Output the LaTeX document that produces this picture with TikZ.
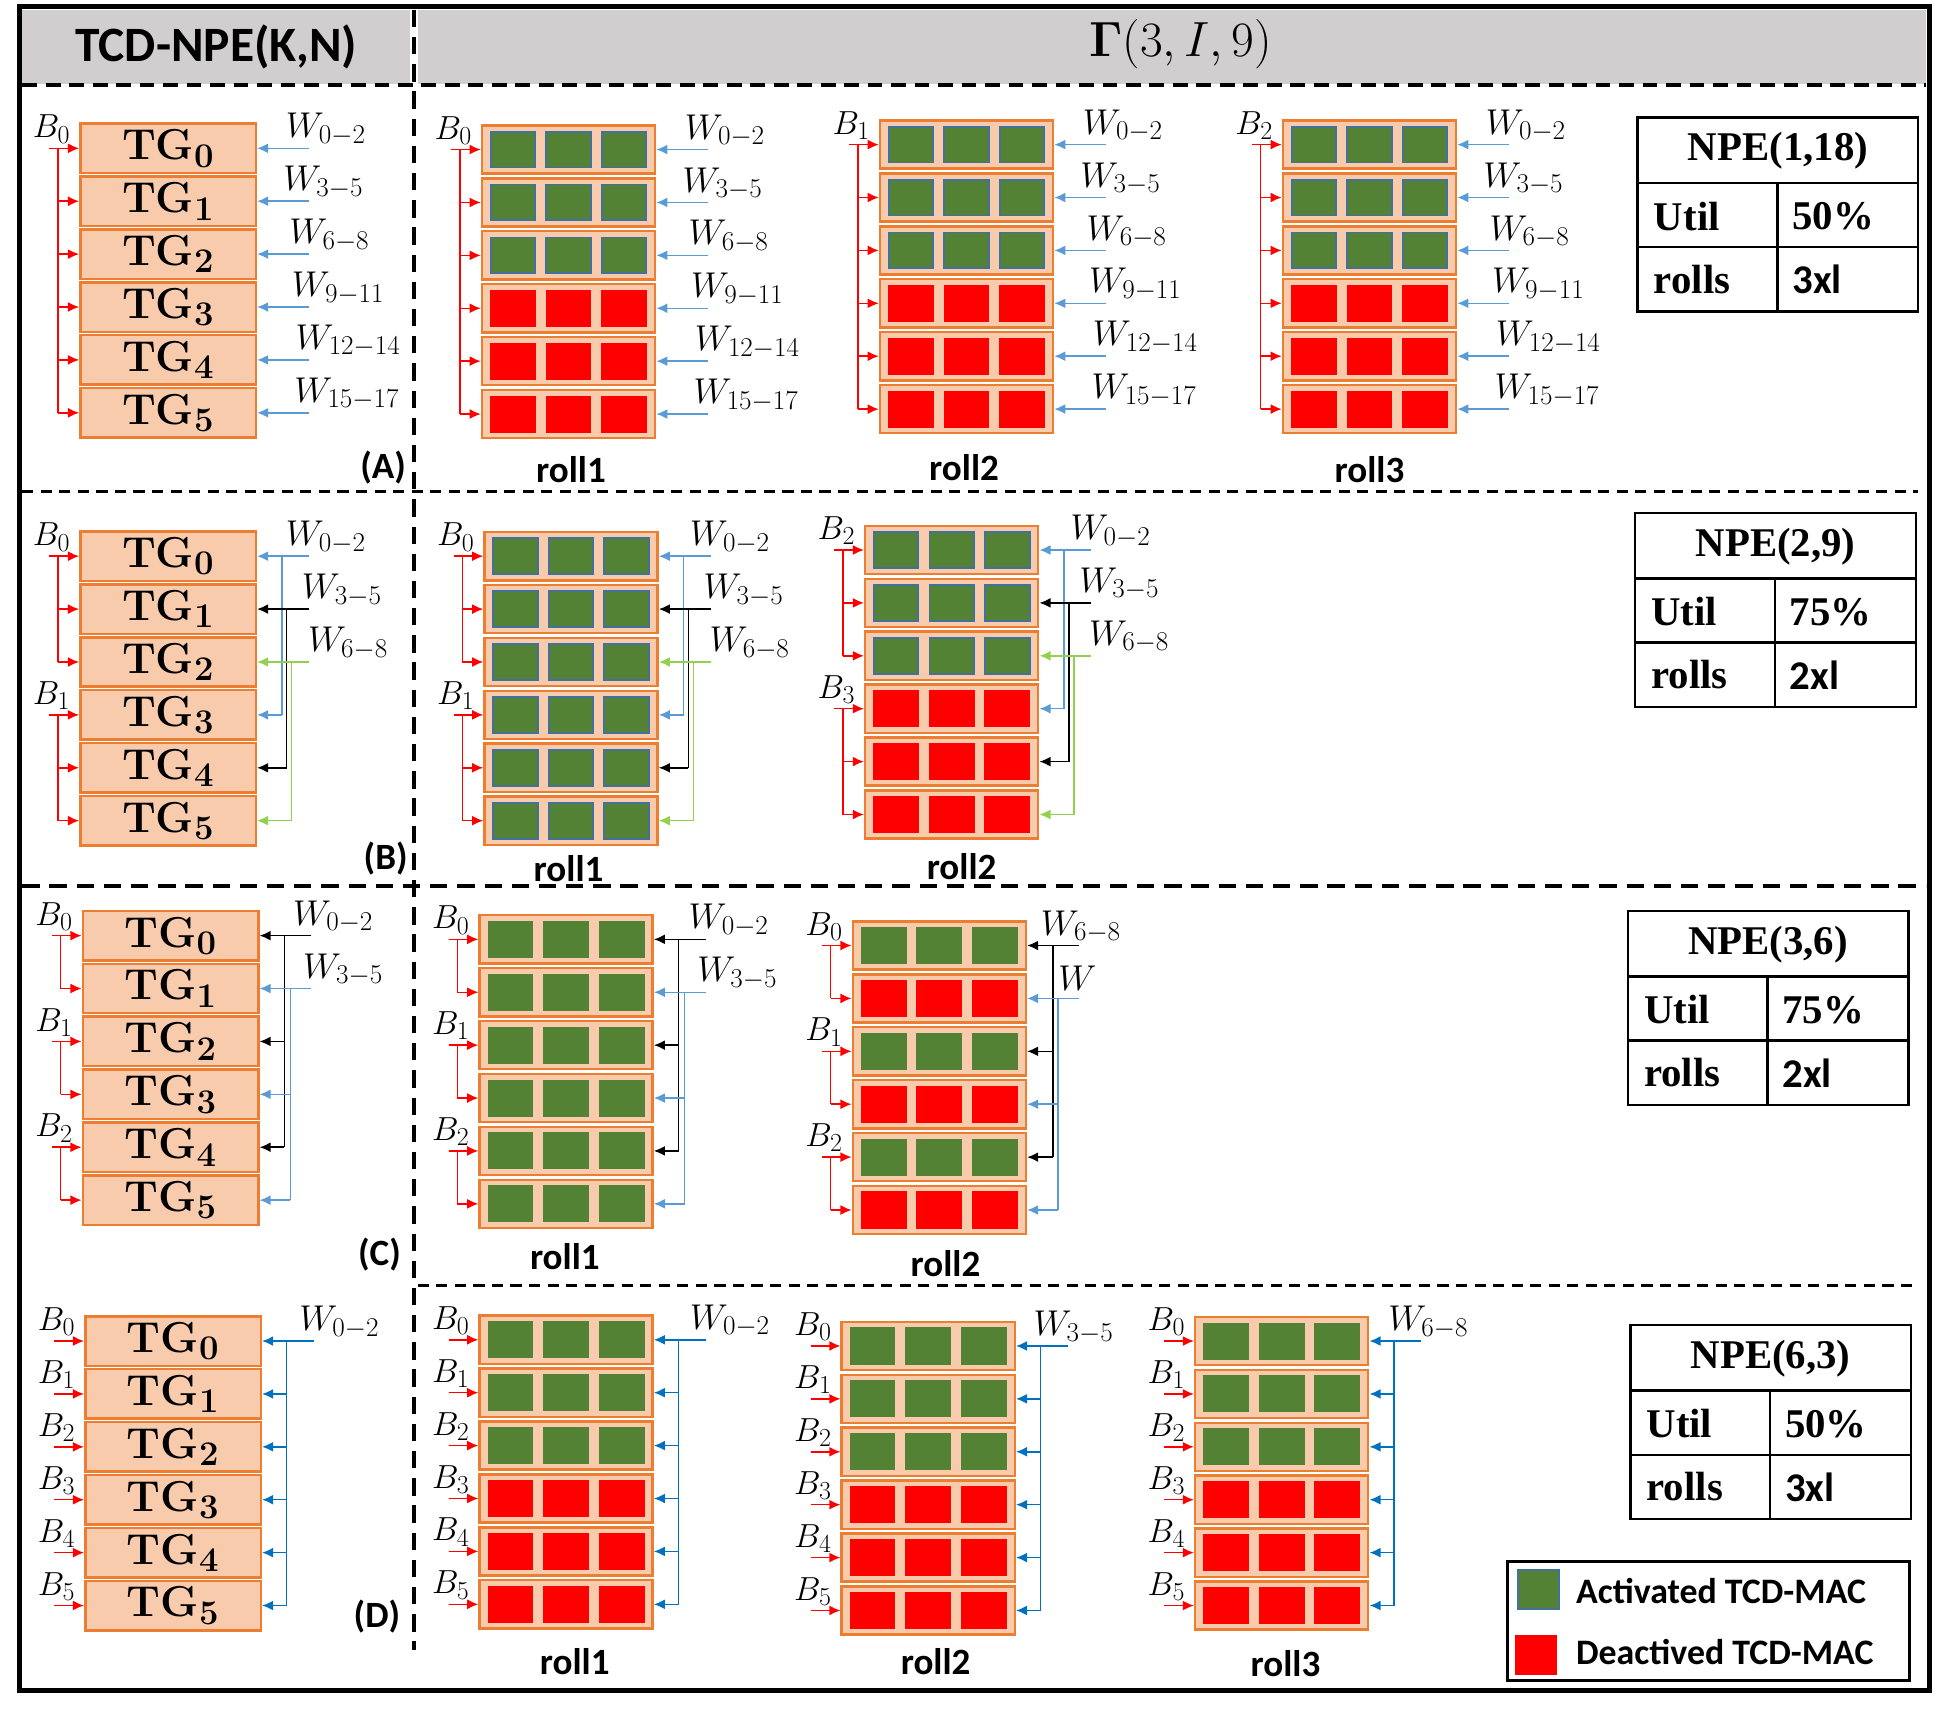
\RequirePackage{fix-cm}
\documentclass[tikz,border=0pt]{standalone}
\usepackage[no-math]{fontspec}
\setsansfont{Carlito}
\newfontfamily\tabfont{Liberation Serif}
\usepackage{tikz}
\usetikzlibrary{arrows.meta}
\DeclareMathSizes{35}{35}{28}{22}
\DeclareMathSizes{29}{29}{22}{17}
\DeclareMathSizes{27}{27}{21}{16}

\definecolor{peach}{HTML}{F8CBAD}
\definecolor{tgorange}{HTML}{ED7D31}
\definecolor{macgreen}{HTML}{548235}
\definecolor{macblue}{HTML}{41719C}
\definecolor{wblue}{HTML}{5B9BD5}
\definecolor{wdarkblue}{HTML}{0070C0}
\definecolor{wgreen}{HTML}{92D050}
\definecolor{headgray}{HTML}{D0CECE}

\tikzstyle{tgbox} = [rectangle, draw=tgorange, fill=peach, line width=2pt,
minimum width=142pt, minimum height=40pt, inner sep=0pt, font=\fontsize{35}{38}\selectfont\bfseries]
\tikzstyle{rollbox} = [rectangle, draw=tgorange, fill=peach, line width=2pt,
minimum width=140pt, minimum height=39pt, inner sep=0pt]
\tikzstyle{act} = [rectangle, draw=macblue, fill=macgreen, line width=1.5pt, minimum width=36pt, minimum height=29pt, inner sep=0pt]
\tikzstyle{actnb} = [rectangle, fill=macgreen, minimum width=37pt, minimum height=30pt, inner sep=0pt]
\tikzstyle{deact} = [rectangle, fill=red, minimum width=37pt, minimum height=30pt, inner sep=0pt]
\tikzstyle{bline} = [draw=red, fill=red, line width=1.2pt, -{Latex[length=9pt,width=8pt]}]
\tikzstyle{wline} = [line width=1.2pt, -{Latex[length=9pt,width=8pt]}]
\tikzstyle{blabel} = [anchor=south east, inner sep=0pt, font=\fontsize{27}{29}\selectfont]
\tikzstyle{wlabel} = [anchor=south west, inner sep=0pt, font=\fontsize{29}{31}\selectfont]
\tikzstyle{rolllabel} = [font=\sffamily\bfseries\fontsize{30}{32}\selectfont]
\tikzstyle{panellabel} = [font=\sffamily\bfseries\fontsize{30}{32}\selectfont]
\tikzstyle{tabtext} = [anchor=west, inner sep=0pt, font=\tabfont\bfseries\fontsize{33}{36}\selectfont]
\tikzstyle{tabline} = [draw, line width=2pt]
\tikzstyle{legtext} = [anchor=west, inner sep=0pt, font=\sffamily\bfseries\fontsize{29}{31}\selectfont]
\tikzstyle{septhin} = [line width=2.5pt, dash pattern=on 9pt off 6pt]
\tikzstyle{septhick} = [line width=3.5pt, dash pattern=on 14pt off 8pt]

% six TG boxes
\newcommand{\tgstack}[3]{%
  \foreach \i in {0,...,5}
    \node[tgbox] (#1\i) at (#2, #3+\i*42.8) {TG$_{\mathbf{\i}}$};
}
% six rolled boxes of three MACs
\newcommand{\rollstack}[4]{%
  \foreach \s [count=\i from 0] in {#4} {%
    \node[rollbox] (#1\i) at (#2, #3+\i*42.8) {};
    \foreach \dx [count=\m] in {-45,0,45}
      \node[\s] (#1\i c\m) at ([xshift=\dx pt]#1\i.center) {};
  }
}
% red input bus
\newcommand{\bbus}[3]{%
  \foreach \r [count=\k] in {#2}{%
    \ifnum\k=1
      \draw[bline] ([xshift=-24pt]#1\r.west) -- (#1\r.west);
      \xdef\bfirst{\r}%
    \else
      \draw[bline] ([xshift=-17pt]#1\r.west) -- (#1\r.west);
    \fi
    \xdef\blast{\r}%
  }
  \draw[red, line width=1.2pt] ([xshift=-17pt]#1\bfirst.west) -- ([xshift=-17pt]#1\blast.west);
  \node[blabel] (#1b\bfirst) at ([xshift=-7pt, yshift=4pt]#1\bfirst.west) {$B_{#3}$};
}
% weight feed
\newcommand{\wfeed}[6]{%
  \foreach \r [count=\k] in {#2}{%
    \ifnum\k=1
      \draw[wline, color=#3] ([xshift=42pt]#1\r.east) -- (#1\r.east);
      \xdef\wfirst{\r}%
    \else
      \draw[wline, color=#3] ([xshift=#4pt]#1\r.east) -- (#1\r.east);
    \fi
    \xdef\wlast{\r}%
  }
  \draw[color=#3, line width=1.2pt] ([xshift=#4pt]#1\wfirst.east) -- ([xshift=#4pt]#1\wlast.east);
  \node[wlabel] (#1w\wfirst) at ([xshift=#6pt, yshift=2pt]#1\wfirst.east) {$W_{#5}$};
}
% NPE table
\newcommand{\npetable}[6]{%
  \draw[tabline] (#2,#3) rectangle ++(227,157);
  \draw[tabline] (#2,#3+53) -- ++(227,0) (#2,#3+105) -- ++(227,0) (#2+113,#3+53) -- ++(0,104);
  \node[tabtext, anchor=center] (#1t) at (#2+113.5,#3+27) {NPE(#4)};
  \node[tabtext] (#1u) at (#2+13,#3+80) {Util};
  \node[tabtext] (#1v) at (#2+125,#3+80) {#5};
  \node[tabtext] (#1r) at (#2+13,#3+131) {rolls};
  \node[tabtext, font=\sffamily\bfseries\fontsize{33}{36}\selectfont] (#1n) at (#2+125,#3+131) {#6};
}

\begin{document}
\begin{tikzpicture}[x=1pt, y=-1pt]
	\useasboundingbox (0,0) rectangle (1568,1386);
	
	% header
	\fill[headgray] (18,8) rectangle (332,68);
	\fill[headgray] (338,8) rectangle (1558,68);
	\node[font=\sffamily\bfseries\fontsize{40}{44}\selectfont] (hleft) at (175,38) {TCD-NPE(K,N)};
	\node[font=\fontsize{40}{44}\selectfont] (hright) at (955,36) {$\mathbf{\Gamma}(3,I,9)$};
	
	% separators
	\draw[line width=3pt, dash pattern=on 12pt off 7pt] (18,69) -- (1558,69);
	\draw[septhin] (18,398) -- (1552,398);
	\draw[septhick] (18,717) -- (1558,717);
	\draw[septhin] (338,1040) -- (1552,1040);
	\draw[septhick] (335,8) -- (335,1335);
	
	% (A)
	\tgstack{AL}{136}{120}
	\rollstack{AR1}{460}{121}{act,act,act,deact,deact,deact}
	\rollstack{AR2}{782}{117}{act,act,act,deact,deact,deact}
	\rollstack{AR3}{1108}{117}{act,act,act,deact,deact,deact}
	\bbus{AL}{0,...,5}{0}
	\bbus{AR1}{0,...,5}{0}
	\bbus{AR2}{0,...,5}{1}
	\bbus{AR3}{0,...,5}{2}
	\foreach \stk in {AL,AR1,AR2,AR3}
	  \foreach \row/\off/\wsub in {0/23/0-2,1/21/3-5,2/26/6-8,3/28/9-11,4/31/12-14,5/30/15-17}
	    {\wfeed{\stk}{\row}{wblue}{20}{\wsub}{\off}}
	
	% (B)
	\tgstack{BL}{136}{450}
	\rollstack{BR1}{462}{450}{act,act,act,act,act,act}
	\rollstack{BR2}{770}{445}{act,act,act,deact,deact,deact}
	\bbus{BL}{0,1,2}{0}
	\bbus{BL}{3,4,5}{1}
	\bbus{BR1}{0,1,2}{0}
	\bbus{BR1}{3,4,5}{1}
	\bbus{BR2}{0,1,2}{2}
	\bbus{BR2}{3,4,5}{3}
	\wfeed{BL}{0,3}{wblue}{20}{0-2}{23}
	\wfeed{BL}{1,4}{black}{24}{3-5}{36}
	\wfeed{BL}{2,5}{wgreen}{28}{6-8}{41}
	\wfeed{BR1}{0,3}{wblue}{20}{0-2}{25}
	\wfeed{BR1}{1,4}{black}{24}{3-5}{36}
	\wfeed{BR1}{2,5}{wgreen}{28}{6-8}{41}
	\wfeed{BR2}{0,3}{wblue}{20}{0-2}{25}
	\wfeed{BR2}{1,4}{black}{24}{3-5}{32}
	\wfeed{BR2}{2,5}{wgreen}{28}{6-8}{40}
	
	% (C)
	\tgstack{CL}{138}{757}
	\rollstack{CR1}{458}{760}{actnb,actnb,actnb,actnb,actnb,actnb}
	\rollstack{CR2}{760}{765}{actnb,deact,actnb,deact,actnb,deact}
	\bbus{CL}{0,1}{0}
	\bbus{CL}{2,3}{1}
	\bbus{CL}{4,5}{2}
	\bbus{CR1}{0,1}{0}
	\bbus{CR1}{2,3}{1}
	\bbus{CR1}{4,5}{2}
	\bbus{CR2}{0,1}{0}
	\bbus{CR2}{2,3}{1}
	\bbus{CR2}{4,5}{2}
	\wfeed{CL}{0,2,4}{black}{20}{0-2}{27}
	\wfeed{CL}{1,3,5}{wblue}{25}{3-5}{35}
	\wfeed{CR1}{0,2,4}{black}{20}{0-2}{28}
	\wfeed{CR1}{1,3,5}{wblue}{25}{3-5}{35}
	\wfeed{CR2}{0,2,4}{black}{21}{6-8}{11}
	\wfeed{CR2}{1,3,5}{wblue}{25}{}{25}
	
	% (D)
	\tgstack{DL}{140}{1085}
	\rollstack{DR1}{458}{1084}{actnb,actnb,actnb,deact,deact,deact}
	\rollstack{DR2}{751}{1089}{actnb,actnb,actnb,deact,deact,deact}
	\rollstack{DR3}{1037}{1085}{actnb,actnb,actnb,deact,deact,deact}
	\foreach \row in {0,...,5} {
	  \bbus{DL}{\row}{\row}
	  \bbus{DR1}{\row}{\row}
	  \bbus{DR2}{\row}{\row}
	  \bbus{DR3}{\row}{\row}
	}
	\wfeed{DL}{0,...,5}{wdarkblue}{20}{0-2}{30}
	\wfeed{DR1}{0,...,5}{wdarkblue}{20}{0-2}{29}
	\wfeed{DR2}{0,...,5}{wdarkblue}{20}{3-5}{14}
	\wfeed{DR3}{0,...,5}{wdarkblue}{20}{6-8}{15}
	
	% roll and panel labels
	\node[rolllabel] (rA1) at (462,380) {roll1};
	\node[rolllabel] (rA2) at (780,378) {roll2};
	\node[rolllabel] (rA3) at (1108,380) {roll3};
	\node[rolllabel] (rB1) at (460,703) {roll1};
	\node[rolllabel] (rB2) at (778,701) {roll2};
	\node[rolllabel] (rC1) at (457,1017) {roll1};
	\node[rolllabel] (rC2) at (765,1022) {roll2};
	\node[rolllabel] (rD1) at (465,1344) {roll1};
	\node[rolllabel] (rD2) at (757,1344) {roll2};
	\node[rolllabel] (rD3) at (1040,1346) {roll3};
	\node[panellabel] (pA) at (310,378) {(A)};
	\node[panellabel] (pB) at (312,695) {(B)};
	\node[panellabel] (pC) at (307,1015) {(C)};
	\node[panellabel] (pD) at (305,1308) {(D)};
	
	% tables
	\npetable{tA}{1325}{95}{1,18}{50\%}{3xl}
	\npetable{tB}{1323}{415}{2,9}{75\%}{2xl}
	\npetable{tC}{1317}{737}{3,6}{75\%}{2xl}
	\npetable{tD}{1319}{1072}{6,3}{50\%}{3xl}
	
	% legend
	\draw[line width=2.5pt] (1220,1263) rectangle (1545,1360);
	\node[act, minimum width=33pt, minimum height=31pt] (legact) at (1245,1286) {};
	\node[deact, minimum width=34pt, minimum height=33pt] (legdeact) at (1243,1339) {};
	\node[legtext] (legacttext) at (1275,1287) {Activated TCD-MAC};
	\node[legtext] (legdeacttext) at (1275,1337) {Deactived TCD-MAC};
	
	% frame
	\draw[line width=4pt] (16,5) rectangle (1561,1368);
	
\end{tikzpicture}
\end{document}
